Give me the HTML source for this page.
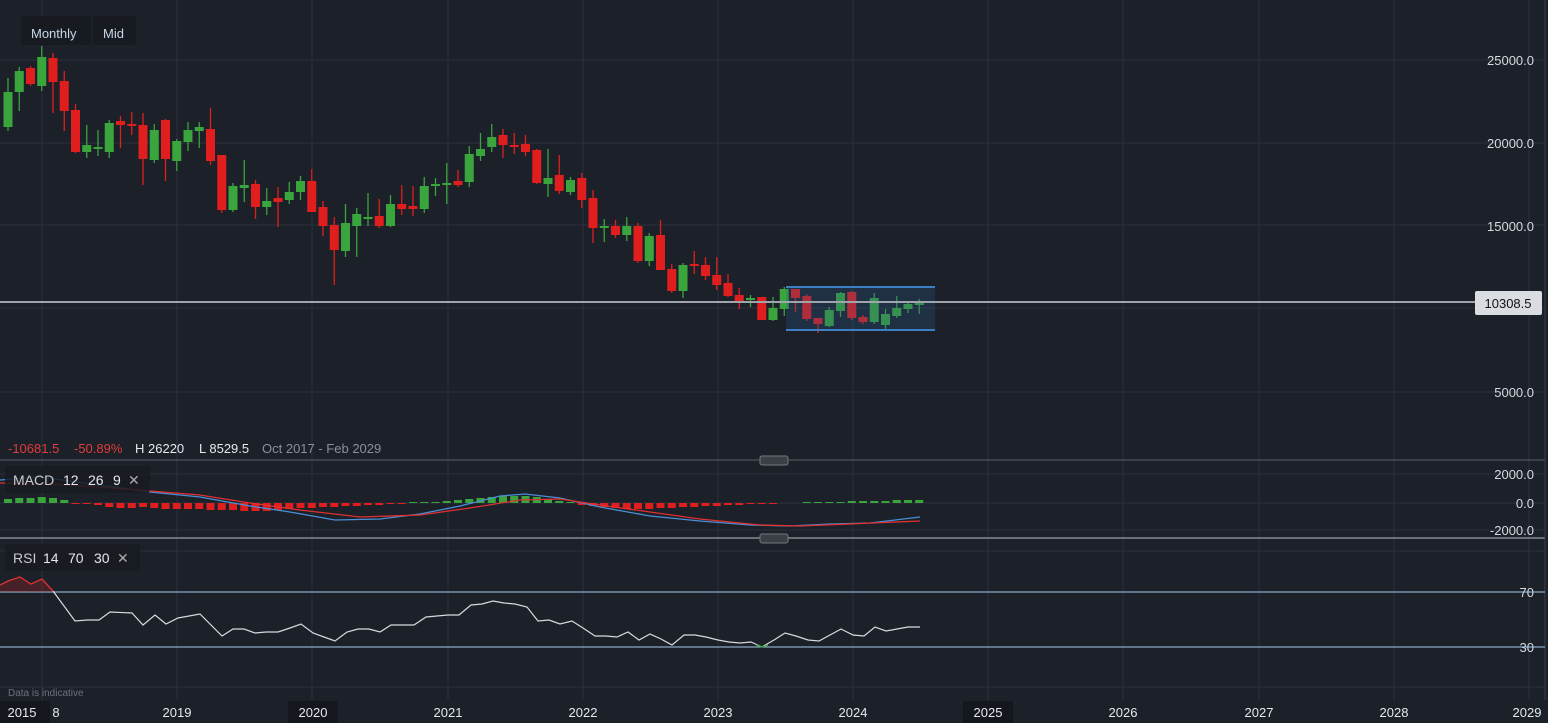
<!DOCTYPE html>
<html><head><meta charset="utf-8"><style>
html,body{margin:0;padding:0;background:#1b2029;overflow:hidden}
svg{display:block}
text{font-family:"Liberation Sans",sans-serif}
</style></head><body>
<svg id="s" width="1548" height="723" xmlns="http://www.w3.org/2000/svg">
<rect width="1548" height="723" fill="#1b2029"/>
<g id="grid" stroke="#2b313b" stroke-width="1"></g>
<g id="hist"></g>
<g id="lines"></g>
<g id="candles"></g>
<rect x="786" y="287" width="149" height="43" fill="rgba(45,90,140,0.28)"/>
<line x1="786" y1="287" x2="935" y2="287" stroke="#3d7fc4" stroke-width="2"/>
<line x1="786" y1="330" x2="935" y2="330" stroke="#3d7fc4" stroke-width="2"/>
<line x1="0" y1="302" x2="1475" y2="302" stroke="#a0a5ad" stroke-width="2"/>
<rect x="1475" y="291" width="67" height="24" rx="2" fill="#d9dce1"/>
<text x="1508" y="308" font-size="13" fill="#111" text-anchor="middle">10308.5</text>
<g font-size="13" fill="#d6d9de" text-anchor="end">
<text x="1534" y="65">25000.0</text><text x="1534" y="148">20000.0</text><text x="1534" y="231">15000.0</text><text x="1534" y="397">5000.0</text>
<text x="1534" y="479">2000.0</text><text x="1534" y="508">0.0</text><text x="1534" y="535">-2000.0</text>
<text x="1534" y="597">70</text><text x="1534" y="652">30</text>
</g>
<line x1="0" y1="460" x2="1545" y2="460" stroke="#5a5f68" stroke-width="1"/>
<line x1="0" y1="538" x2="1545" y2="538" stroke="#6a6f78" stroke-width="2"/>
<line x1="1545" y1="0" x2="1545" y2="700" stroke="#3a3f48"/>
<line x1="0" y1="592" x2="1545" y2="592" stroke="#a9c8ea" stroke-width="1"/>
<line x1="0" y1="647" x2="1545" y2="647" stroke="#a9c8ea" stroke-width="1"/>
<rect x="760" y="456" width="28" height="9" rx="2" fill="#3a3f48" stroke="#777" />
<rect x="760" y="534" width="28" height="9" rx="2" fill="#3a3f48" stroke="#777" />
<g id="rsi"></g>
<rect x="21" y="16" width="70" height="29" rx="3" fill="#171b21"/>
<rect x="93" y="16" width="43" height="29" rx="3" fill="#171b21"/>
<text x="31" y="38" font-size="13" fill="#c9d6e6">Monthly</text>
<text x="103" y="38" font-size="13" fill="#c9d6e6">Mid</text>
<g font-size="13">
<text x="8" y="453" fill="#e23c3c">-10681.5</text>
<text x="74" y="453" fill="#e23c3c">-50.89%</text>
<text x="135" y="453" fill="#e6e8eb">H 26220</text>
<text x="199" y="453" fill="#e6e8eb">L 8529.5</text>
<text x="262" y="453" fill="#8a8f98">Oct 2017 - Feb 2029</text>
</g>
<rect x="5" y="466" width="145" height="27" rx="3" fill="rgba(23,27,33,0.85)"/>
<g font-size="14">
<text x="13" y="485" fill="#c9ccd1">MACD</text>
<text x="63" y="485" fill="#e6e8eb">12</text>
<text x="88" y="485" fill="#e6e8eb">26</text>
<text x="113" y="485" fill="#e6e8eb">9</text>
<text x="128" y="485" fill="#aaa">✕</text>
</g>
<rect x="5" y="544" width="135" height="27" rx="3" fill="rgba(23,27,33,0.85)"/>
<g font-size="14">
<text x="13" y="563" fill="#c9ccd1">RSI</text>
<text x="43" y="563" fill="#e6e8eb">14</text>
<text x="68" y="563" fill="#e6e8eb">70</text>
<text x="94" y="563" fill="#e6e8eb">30</text>
<text x="117" y="563" fill="#aaa">✕</text>
</g>
<text x="8" y="696" font-size="10" fill="#6c717a">Data is indicative</text>
<rect x="0" y="701" width="50" height="22" fill="#14181e"/>
<rect x="288" y="701" width="50" height="22" fill="#14181e"/>
<rect x="963" y="701" width="50" height="22" fill="#14181e"/>
<g font-size="13" fill="#e6e8eb" text-anchor="middle">
<text x="22" y="717">2015</text><text x="56" y="717">8</text>
<text x="177" y="717">2019</text><text x="313" y="717">2020</text><text x="448" y="717">2021</text><text x="583" y="717">2022</text>
<text x="718" y="717">2023</text><text x="853" y="717">2024</text><text x="988" y="717">2025</text><text x="1123" y="717">2026</text>
<text x="1259" y="717">2027</text><text x="1394" y="717">2028</text><text x="1527" y="717">2029</text>
</g>
</svg>
<script>
var NS="http://www.w3.org/2000/svg";
function el(p,t,a){var e=document.createElementNS(NS,t);for(var k in a)e.setAttribute(k,a[k]);document.getElementById(p).appendChild(e);return e;}
[42,177,312,448,583,718,853,988,1123,1259,1394,1529].forEach(function(x){el("grid","line",{x1:x,y1:0,x2:x,y2:700});});
[60,143,225,308,392,474,503,530,551,687].forEach(function(y){el("grid","line",{x1:0,y1:y,x2:1545,y2:y});});
var D=[["G",127,92,78,131],["G",92,71,67,111],["R",68,84,66,86],["G",86,57,46,91],["R",58,82,53,113],["R",81,111,71,131],["R",110,152,104,153],["G",152,145,125,158],["G",148,147,130,156],["G",152,123,120,158],["R",121,125,116,148],["R",124,126,112,135],["R",125,159,113,185],["G",160,130,124,163],["R",120,159,119,181],["G",161,141,139,171],["G",142,130,122,151],["G",131,127,122,148],["R",129,161,108,165],["R",155,210,155,213],["G",210,186,183,212],["G",188,185,160,202],["R",184,207,180,219],["G",207,201,188,215],["R",198,202,187,227],["G",200,192,182,204],["G",192,181,176,200],["R",181,212,169,212],["R",207,226,201,236],["R",225,250,217,285],["G",251,223,204,257],["G",226,214,208,257],["G",218,217,193,226],["R",216,226,199,228],["G",226,204,195,227],["R",204,209,185,215],["R",206,209,186,216],["G",209,186,177,213],["G",186,184,178,196],["G",184,183,163,204],["R",181,185,170,187],["G",182,154,146,187],["G",156,149,133,161],["G",147,137,124,152],["R",135,145,129,158],["R",145,146,133,154],["R",144,152,135,156],["R",150,183,149,184],["G",184,178,149,197],["R",175,191,155,194],["G",192,180,177,195],["R",178,200,173,208],["R",198,228,190,243],["G",227,226,219,242],["R",226,235,220,238],["G",235,226,217,241],["R",226,261,223,263],["G",261,236,233,266],["R",235,270,220,270],["R",269,291,264,293],["G",291,265,263,298],["R",264,266,251,274],["R",265,276,257,280],["R",275,285,257,290],["R",283,296,274,297],["R",295,301,288,309],["G",299,298,295,307],["R",297,320,297,320],["G",320,308,297,321],["G",309,289,287,316],["R",289,298,289,312],["R",296,319,294,321],["R",318,324,318,333],["G",326,310,307,327],["G",311,293,292,317],["R",292,318,291,320],["R",317,322,315,324],["G",322,298,293,324],["G",325,314,309,329],["G",316,308,296,318],["G",309,304,302,313],["G",304,303,299,314]];
D.forEach(function(d,i){var x=8+i*11.25,c=d[0]=="G"?"#3aa53c":"#e01e1e";
el("candles","line",{x1:x,y1:d[3],x2:x,y2:d[4],stroke:c,"stroke-width":1.3});
var t=Math.min(d[1],d[2]),h=Math.max(2,Math.abs(d[1]-d[2]));
el("candles","rect",{x:x-4.5,y:t,width:9,height:h,fill:c});});
var H=[4,5,5,6,5,3,-1,-1,-2,-4,-5,-5,-4,-5,-6,-6,-6,-6,-7,-7,-7,-8,-8,-8,-7,-6,-5,-5,-4,-4,-3,-3,-2,-2,-1,-1,1,1,1,2,3,4,5,6,7,7,7,6,4,2,1,-2,-3,-4,-5,-6,-6,-6,-5,-5,-4,-4,-3,-3,-2,-2,-1,-1,-1,0,0,1,1,1,1,2,2,2,2,3,3,3];
H.forEach(function(v,i){var x=8+i*11.25;if(v==0)return;
el("hist","rect",{x:x-4,y:v>0?503-v:503,width:8,height:Math.abs(v),fill:v>0?"#3aa53c":"#e01e1e"});});
function pl(p,pts,c,w){el(p,"polyline",{points:pts.map(function(a){return a.join(",")}).join(" "),fill:"none",stroke:c,"stroke-width":w||1.3});}
pl("lines",[[0,480],[40,477],[100,485],[150,492],[200,497],[250,506],[290,512],[335,520],[380,519],[420,514],[460,506],[500,496],[525,494],[560,498],[600,507],[650,516],[700,521],[750,525],[790,526],[830,524],[870,523],[920,517]],"#4a8fd6");
pl("lines",[[0,483],[50,484],[100,487],[150,491],[200,495],[250,503],[300,510],[360,517],[420,515],[470,508],[520,500],[560,499],[600,505],[650,512],[700,519],[760,525],[800,526],[850,524],[920,521]],"#e03030");
var R=[[0,585],[8,581],[20,577],[31,584],[42,579],[53,591],[75,621],[87,620],[99,620],[110,612],[132,613],[143,625],[155,615],[166,624],[178,618],[200,614],[222,636],[233,629],[244,629],[255,633],[266,632],[278,632],[290,628],[301,624],[313,633],[324,637],[335,641],[347,632],[358,629],[369,629],[380,632],[391,625],[403,625],[414,625],[426,617],[437,616],[448,615],[459,615],[471,605],[482,604],[493,601],[504,603],[515,604],[527,607],[538,621],[549,620],[560,624],[572,621],[583,628],[595,636],[606,636],[617,637],[628,632],[639,640],[650,634],[661,639],[672,645],[684,635],[695,635],[706,637],[718,640],[729,642],[740,643],[751,642],[762,647],[774,640],[785,633],[796,636],[808,640],[819,641],[830,635],[841,629],[853,635],[864,636],[875,627],[886,631],[897,629],[908,627],[920,627]];
el("rsi","polygon",{points:"0,592 0,585 8,581 20,577 31,584 42,579 53,592",fill:"rgba(200,40,40,0.25)"});
pl("rsi",R.slice(5),"#d8dadd",1.2);
pl("rsi",R.slice(0,6),"#e03030",1.3);
pl("rsi",[[756,645],[762,647],[768,645]],"#3aa53c",1.3);
</script>
</body></html>
